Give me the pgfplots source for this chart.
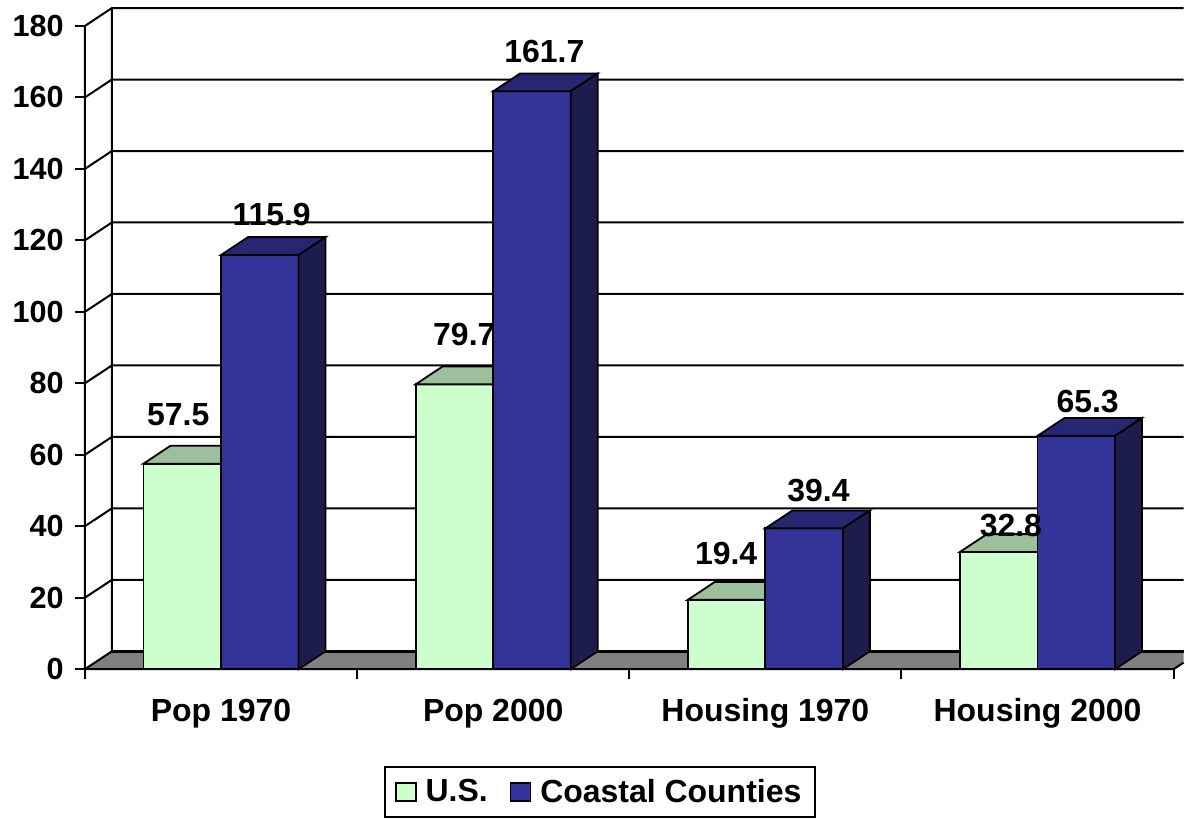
\documentclass[border=0pt]{standalone}
\usepackage{pgfplots}
\pgfplotsset{compat=1.18}
\usepackage{fontspec}
\setmainfont{Liberation Sans}
\definecolor{usfront}{HTML}{CCFFCC}
\definecolor{ustop}{HTML}{9CC09C}
\definecolor{ccfront}{HTML}{333399}
\definecolor{cctop}{HTML}{262673}
\definecolor{ccside}{HTML}{1C1C4D}
\definecolor{floorgrey}{HTML}{808080}
\begin{document}
\begin{tikzpicture}
\begin{axis}[
  scale only axis,
  width=550pt, height=335pt,
  xmin=-0.5, xmax=3.5367,
  ymin=0, ymax=187.26,
  clip=false,
  axis x line=bottom, axis y line=left,
  x axis line style={draw=none}, y axis line style={draw=none},
  tick align=outside,
  major tick length=5pt,
  tick style={black, line width=1pt},
  ytick={0,20,...,180},
  xtick={-0.5,0.5,1.5,2.5,3.5},
  x tick label as interval,
  xticklabels={Pop 1970, Pop 2000, Housing 1970, Housing 2000},
  /pgf/number format/assume math mode=true,
  yticklabel style={font=\fontsize{15.3}{18}\selectfont\bfseries, anchor=east, inner sep=0pt, xshift=-5.5pt},
  xticklabel style={font=\fontsize{16}{19}\selectfont\bfseries, anchor=base, inner sep=0pt, yshift=-21pt},
  legend style={at={(0.469,0)}, anchor=north, yshift=-48.5pt, draw=black, line width=1pt,
    font=\fontsize{16}{19}\selectfont\bfseries, legend columns=2,
    inner xsep=5pt, inner ysep=4pt,
    /tikz/every odd column/.append style={column sep=2.5pt},
    /tikz/every even column/.append style={column sep=9pt}},
  legend image code/.code={\draw[#1, line width=0.8pt] (0pt,-4.5pt) rectangle (10pt,4.5pt);},
]
% invisible extent
\addplot[draw=none, forget plot] coordinates {(-0.812,-40.8) (3.5367,187.26)};
% floor
\addplot[draw=none, fill=floorgrey, forget plot] coordinates {(-0.5,0) (3.5,0) (3.5367,1.85) (3.5367,5) (-0.401,5)} -- cycle;
% walls and gridlines
\addplot[black, line width=1pt, forget plot, unbounded coords=jump] coordinates {
(-0.5,0) (-0.401,5) (3.5367,5) (nan,nan)
(-0.5,20) (-0.401,25) (3.5367,25) (nan,nan)
(-0.5,40) (-0.401,45) (3.5367,45) (nan,nan)
(-0.5,60) (-0.401,65) (3.5367,65) (nan,nan)
(-0.5,80) (-0.401,85) (3.5367,85) (nan,nan)
(-0.5,100) (-0.401,105) (3.5367,105) (nan,nan)
(-0.5,120) (-0.401,125) (3.5367,125) (nan,nan)
(-0.5,140) (-0.401,145) (3.5367,145) (nan,nan)
(-0.5,160) (-0.401,165) (3.5367,165) (nan,nan)
(-0.5,180) (-0.401,185) (3.5367,185) (nan,nan)
(-0.401,5) (-0.401,185) (nan,nan)
(-0.5,0) (-0.5,180) (nan,nan)
(-0.5,0) (3.5,0) (3.5367,1.85)
};
\addplot[black, line width=1.4pt, forget plot] coordinates {(-0.401,5) (3.5367,5)};
% ---- bars ----
\addplot[fill=usfront, draw=black, line width=0.9pt, forget plot] coordinates {(-0.285,0) (0,0) (0,57.5) (-0.285,57.5)} -- cycle;
\addplot[fill=ustop, draw=black, line width=0.9pt, forget plot] coordinates {(-0.285,57.5) (-0.186,62.5) (0.099,62.5) (0,57.5)} -- cycle;
\addplot[fill=ccfront, draw=black, line width=0.9pt, forget plot] coordinates {(0,0) (0.285,0) (0.285,115.9) (0,115.9)} -- cycle;
\addplot[fill=cctop, draw=black, line width=0.9pt, forget plot] coordinates {(0,115.9) (0.099,120.9) (0.384,120.9) (0.285,115.9)} -- cycle;
\addplot[fill=ccside, draw=black, line width=0.9pt, forget plot] coordinates {(0.285,0) (0.384,5) (0.384,120.9) (0.285,115.9)} -- cycle;
%
\addplot[fill=usfront, draw=black, line width=0.9pt, forget plot] coordinates {(0.715,0) (1,0) (1,79.7) (0.715,79.7)} -- cycle;
\addplot[fill=ustop, draw=black, line width=0.9pt, forget plot] coordinates {(0.715,79.7) (0.814,84.7) (1.099,84.7) (1,79.7)} -- cycle;
\addplot[fill=ccfront, draw=black, line width=0.9pt, forget plot] coordinates {(1,0) (1.285,0) (1.285,161.7) (1,161.7)} -- cycle;
\addplot[fill=cctop, draw=black, line width=0.9pt, forget plot] coordinates {(1,161.7) (1.099,166.7) (1.384,166.7) (1.285,161.7)} -- cycle;
\addplot[fill=ccside, draw=black, line width=0.9pt, forget plot] coordinates {(1.285,0) (1.384,5) (1.384,166.7) (1.285,161.7)} -- cycle;
%
\addplot[fill=usfront, draw=black, line width=0.9pt, forget plot] coordinates {(1.715,0) (2,0) (2,19.4) (1.715,19.4)} -- cycle;
\addplot[fill=ustop, draw=black, line width=0.9pt, forget plot] coordinates {(1.715,19.4) (1.814,24.4) (2.099,24.4) (2,19.4)} -- cycle;
\addplot[fill=ccfront, draw=black, line width=0.9pt, forget plot] coordinates {(2,0) (2.285,0) (2.285,39.4) (2,39.4)} -- cycle;
\addplot[fill=cctop, draw=black, line width=0.9pt, forget plot] coordinates {(2,39.4) (2.099,44.4) (2.384,44.4) (2.285,39.4)} -- cycle;
\addplot[fill=ccside, draw=black, line width=0.9pt, forget plot] coordinates {(2.285,0) (2.384,5) (2.384,44.4) (2.285,39.4)} -- cycle;
%
\addplot[fill=usfront, draw=black, line width=0.9pt, forget plot] coordinates {(2.715,0) (3,0) (3,32.8) (2.715,32.8)} -- cycle;
\addplot[fill=ustop, draw=black, line width=0.9pt, forget plot] coordinates {(2.715,32.8) (2.814,37.8) (3.099,37.8) (3,32.8)} -- cycle;
\addplot[fill=ccfront, draw=black, line width=0.9pt, forget plot] coordinates {(3,0) (3.285,0) (3.285,65.3) (3,65.3)} -- cycle;
\addplot[fill=cctop, draw=black, line width=0.9pt, forget plot] coordinates {(3,65.3) (3.099,70.3) (3.384,70.3) (3.285,65.3)} -- cycle;
\addplot[fill=ccside, draw=black, line width=0.9pt, forget plot] coordinates {(3.285,0) (3.384,5) (3.384,70.3) (3.285,65.3)} -- cycle;
% data labels
\addplot[draw=none, mark=none, forget plot, nodes near coords, point meta=explicit symbolic,
  every node near coord/.style={anchor=base, inner sep=0pt, font=\fontsize{16}{19}\selectfont\bfseries}]
  coordinates {(-0.157,68.2)[57.5] (0.894,90.6)[79.7] (1.856,29.3)[19.4] (2.902,37.2)[32.8]
               (0.186,124.1)[115.9] (1.188,169.7)[161.7] (2.195,47.0)[39.4] (3.184,71.8)[65.3]};
% legend
\addlegendimage{fill=usfront, draw=black}
\addlegendentry{U.S.}
\addlegendimage{fill=ccfront, draw=black}
\addlegendentry{Coastal Counties}
\end{axis}
\end{tikzpicture}
\end{document}
